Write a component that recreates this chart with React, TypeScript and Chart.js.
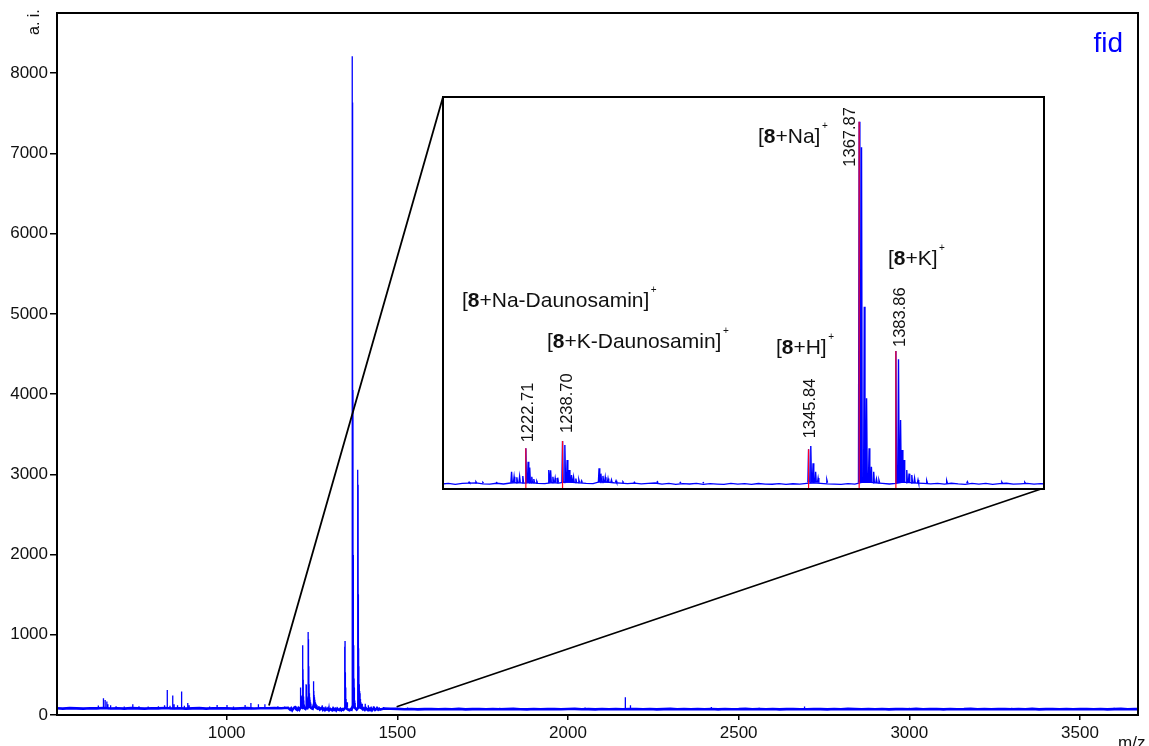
import React, { useEffect, useRef } from "react";
import { Chart, registerables } from "chart.js";

Chart.register(...registerables);

// ---------- data ----------
const X_TICKS = [1000, 1500, 2000, 2500, 3000, 3500];
const Y_TICKS = [0, 1000, 2000, 3000, 4000, 5000, 6000, 7000, 8000];

// coarse baseline (noise floor) sampled every 20 m/z starting at 500
const BASELINE_START_MZ = 500;
const BASELINE_STEP_MZ = 20;
const BASELINE_LOW = [84, 80, 86, 82, 79, 85, 83, 88, 81, 84, 80, 86, 83, 79, 85, 82, 87, 81, 84, 80, 83, 86, 79, 84, 82, 85, 80, 83, 86, 81, 84];
const BASELINE_MID = [85, 88, 84, 90, 92, 95, 98, 100, 96, 94, 97, 102, 98, 92, 88, 86, 82, 80, 78];
const BASELINE_HIGH = [
  76, 72, 74, 70, 73, 75, 71, 74, 72, 76,
  70, 73, 75, 72, 74, 71, 73, 76, 72, 70,
  74, 72, 75, 73, 71, 74, 76, 72, 73, 70,
  75, 72, 74, 71, 73, 75, 72, 74, 70, 73,
  76, 72, 74, 71, 73, 72, 75, 70, 74, 72,
  73, 76, 71, 74, 72, 75, 70, 73, 74, 72,
  71, 75, 73, 70, 74, 72, 76, 73, 71, 74,
  72, 75, 70, 73, 74, 71, 76, 72, 73, 75,
  70, 74, 72, 73, 76, 71, 74, 72, 75, 73,
  71, 74, 72, 76, 70, 73, 75, 72, 74, 71,
  73, 75, 72, 74, 70, 73, 76, 72, 74, 73,
];

// fine baseline noise in the zoomed window, every 3 m/z from 1186 to 1450
const FINE_START_MZ = 1186;
const FINE_STEP_MZ = 3;
const FINE_NOISE = [
  67, 83, 60, 80, 88, 92, 72, 63, 85, 68,
  90, 97, 89, 102, 84, 76, 98, 88, 114, 106,
  92, 83, 78, 120, 112, 96, 86, 78, 89, 70,
  83, 90, 66, 80, 61, 78, 68, 82, 60, 77,
  67, 59, 82, 65, 76, 58, 79, 66, 62, 77,
  60, 73, 65, 80, 96, 84, 72, 64, 59, 74,
  67, 104, 112, 95, 80, 68, 83, 109, 97, 88,
  82, 70, 84, 66, 85, 71, 61, 80, 65, 83,
  60, 76, 85, 64, 72, 82, 66, 78, 67,
];

// peaks [m/z, intensity]
const PEAKS_LOW_MASS: [number, number][] = [
  [624, 117], [639, 208], [644, 188], [649, 167], [652, 133], [660, 120], [676, 110], [700, 105],
  [725, 133], [743, 108], [770, 105], [800, 110], [818, 120], [826, 312], [834, 115], [842, 242],
  [846, 135], [856, 120], [868, 292], [876, 115], [886, 150], [890, 120], [920, 100], [950, 105],
  [972, 125], [1001, 125], [1020, 105], [1054, 125], [1071, 150], [1093, 133], [1112, 133],
  [1150, 110], [1170, 105],
];
const PEAKS_FRAGMENT_REGION: [number, number][] = [
  [1198, 110], [1201, 115], [1204, 105], [1210, 100],
  [1216.5, 344], [1217.6, 231], [1218.8, 220], [1220.0, 235], [1221.4, 245], [1222.71, 870],
  [1223.7, 569], [1224.4, 440], [1225.3, 230], [1226.2, 180], [1227.5, 130],
  [1232.7, 382], [1233.5, 375], [1234.5, 231], [1235.5, 200], [1236.6, 210], [1238.7, 1034],
  [1239.7, 944], [1240.7, 607], [1241.6, 382], [1242.6, 270], [1243.5, 220], [1244.5, 190],
  [1245.8, 160], [1247, 140],
  [1254.6, 420], [1255.4, 300], [1256.3, 250], [1257.3, 220], [1258.5, 190], [1260, 160],
  [1262, 140], [1265, 120], [1270, 110], [1280, 120], [1290, 105], [1300, 100],
];
const PEAKS_MOLECULAR_REGION: [number, number][] = [
  [1345.84, 850], [1346.8, 921], [1347.8, 532], [1348.9, 344], [1350, 200], [1353.8, 160],
  [1367.87, 8210], [1368.9, 7634], [1370.1, 4052], [1371.1, 1993], [1372.2, 870], [1373.2, 456],
  [1374.2, 344], [1375.4, 180], [1376.5, 150],
  [1383.86, 3056], [1385.0, 2870], [1385.9, 1506], [1386.6, 831], [1387.4, 607], [1388.6, 382],
  [1389.6, 300], [1390.8, 270], [1392, 200], [1393.5, 160],
  [1397.3, 140], [1406, 140], [1415, 120], [1430, 110], [1440, 105], [1460, 100],
];
const PEAKS_HIGH_MASS: [number, number][] = [
  [1530, 92], [1620, 88], [1800, 90], [1950, 88], [2050, 92], [2168, 221], [2183, 120],
  [2300, 88], [2420, 100], [2560, 90], [2693, 105], [2850, 88], [3000, 90], [3150, 88],
  [3300, 90], [3450, 88], [3600, 90],
];

// labelled peaks (inset)
const LABEL_TEXT = ["1222.71", "1238.70", "1345.84", "1367.87", "1383.86"];
const LABEL_MZ = [1222.71, 1238.7, 1345.84, 1367.87, 1383.86];
const LABEL_INTENSITY = [870, 1034, 847, 8210, 3056];

// ion annotations: [prefix, bold, suffix], anchor m/z, anchor intensity
const ION_TEXT: [string, string, string][] = [
  ["[", "8", "+Na-Daunosamin]"],
  ["[", "8", "+K-Daunosamin]"],
  ["[", "8", "+H]"],
  ["[", "8", "+Na]"],
  ["[", "8", "+K]"],
];
const ION_MZ = [1194.9, 1231.9, 1331.6, 1323.8, 1380.4];
const ION_INTENSITY = [4045, 3124, 2989, 7730, 4989];

// zoom callout anchors on the main spectrum
const CALLOUT_MZ = [1124, 1498];
const CALLOUT_INTENSITY = [118, 103];

// ---------- layout / style ----------
const W = 1149;
const H = 746;
const FONT = '"Liberation Sans", Arial, Helvetica, sans-serif';
const BLUE = "#0000ff";
const INSET = { left: 442, top: 96, width: 603, height: 394 };
const LABEL_OFFSETS: [number, number][] = [[7, -6], [9, -8], [6, -11], [-4, 45], [9, -4]];

// ---------- helpers ----------
const BASELINE_LEVELS = [...BASELINE_LOW, ...BASELINE_MID, ...BASELINE_HIGH];
const ALL_PEAKS = [...PEAKS_LOW_MASS, ...PEAKS_FRAGMENT_REGION, ...PEAKS_MOLECULAR_REGION, ...PEAKS_HIGH_MASS];
const FINE_END_MZ = FINE_START_MZ + (FINE_NOISE.length - 1) * FINE_STEP_MZ;

function baselineAt(mz: number) {
  const i = Math.max(0, Math.min(BASELINE_LEVELS.length - 1, Math.round((mz - BASELINE_START_MZ) / BASELINE_STEP_MZ)));
  return BASELINE_LEVELS[i];
}
function baselinePoints() {
  const pts: { x: number; y: number }[] = [];
  BASELINE_LEVELS.forEach((v, i) => {
    const mz = BASELINE_START_MZ + i * BASELINE_STEP_MZ;
    if (mz < FINE_START_MZ) pts.push({ x: mz, y: v });
  });
  FINE_NOISE.forEach((v, i) => pts.push({ x: FINE_START_MZ + i * FINE_STEP_MZ, y: v }));
  BASELINE_LEVELS.forEach((v, i) => {
    const mz = BASELINE_START_MZ + i * BASELINE_STEP_MZ;
    if (mz > FINE_END_MZ) pts.push({ x: mz, y: v });
  });
  return pts;
}
function peakPoints(halfWidth: number) {
  const pts: any[] = [];
  for (const [mz, h] of ALL_PEAKS) {
    const f = baselineAt(mz);
    pts.push({ x: mz - halfWidth, y: f }, { x: mz, y: h }, { x: mz + halfWidth, y: f }, { x: mz + halfWidth + 0.01, y: null });
  }
  return pts;
}
function markerPoints(bottom: number) {
  const pts: any[] = [];
  LABEL_MZ.forEach((mz, i) => {
    pts.push({ x: mz, y: bottom }, { x: mz, y: LABEL_INTENSITY[i] }, { x: mz + 0.01, y: null });
  });
  return pts;
}

const mainDecor = {
  id: "mainDecor",
  afterDatasetsDraw(chart: any) {
    const { ctx, chartArea: a, scales } = chart;
    const x = scales.x;
    const y = scales.y;
    ctx.save();
    ctx.strokeStyle = "#000";
    ctx.lineWidth = 2;
    ctx.strokeRect(a.left, a.top, a.right - a.left, a.bottom - a.top);
    ctx.lineWidth = 1.8;
    ctx.beginPath();
    ctx.moveTo(x.getPixelForValue(CALLOUT_MZ[0]), y.getPixelForValue(CALLOUT_INTENSITY[0]));
    ctx.lineTo(INSET.left + 1, INSET.top + 1);
    ctx.moveTo(x.getPixelForValue(CALLOUT_MZ[1]), y.getPixelForValue(CALLOUT_INTENSITY[1]));
    ctx.lineTo(INSET.left + INSET.width - 1, INSET.top + INSET.height - 2);
    ctx.stroke();

    ctx.fillStyle = "#111";
    ctx.font = `16px ${FONT}`;
    ctx.textAlign = "left";
    ctx.textBaseline = "alphabetic";
    ctx.save();
    ctx.translate(38.5, 35);
    ctx.rotate(-Math.PI / 2);
    ctx.fillText("a. i.", 0, 0);
    ctx.restore();

    ctx.font = `17px ${FONT}`;
    ctx.fillText("m/z", 1118, 748);

    ctx.fillStyle = BLUE;
    ctx.font = `28px ${FONT}`;
    ctx.textAlign = "right";
    ctx.fillText("fid", 1123, 51.5);
    ctx.restore();
  },
};

const insetDecor = {
  id: "insetDecor",
  beforeDraw(chart: any) {
    const { ctx, width, height } = chart;
    ctx.save();
    ctx.fillStyle = "#fff";
    ctx.fillRect(0, 0, width, height);
    ctx.restore();
  },
  afterDraw(chart: any) {
    const { ctx, scales, width, height } = chart;
    const x = scales.x;
    const y = scales.y;
    ctx.save();
    ctx.strokeStyle = "#000";
    ctx.lineWidth = 2;
    ctx.strokeRect(1, 1, width - 2, height - 2);

    ctx.fillStyle = "#111";
    ctx.font = `16.5px ${FONT}`;
    ctx.textAlign = "left";
    ctx.textBaseline = "alphabetic";
    LABEL_TEXT.forEach((t, i) => {
      const px = x.getPixelForValue(LABEL_MZ[i]);
      const py = y.getPixelForValue(LABEL_INTENSITY[i]);
      ctx.save();
      ctx.translate(px + LABEL_OFFSETS[i][0], py + LABEL_OFFSETS[i][1]);
      ctx.rotate(-Math.PI / 2);
      ctx.fillText(t, 0, 0);
      ctx.restore();
    });

    ION_TEXT.forEach(([pre, bold, post], i) => {
      let px = x.getPixelForValue(ION_MZ[i]);
      const py = y.getPixelForValue(ION_INTENSITY[i]);
      ctx.font = `21px ${FONT}`;
      ctx.fillText(pre, px, py);
      px += ctx.measureText(pre).width;
      ctx.font = `bold 21px ${FONT}`;
      ctx.fillText(bold, px, py);
      px += ctx.measureText(bold).width;
      ctx.font = `21px ${FONT}`;
      ctx.fillText(post, px, py);
      px += ctx.measureText(post).width;
      ctx.font = `10px ${FONT}`;
      ctx.fillText("+", px + 1.5, py - 14);
    });
    ctx.restore();
  },
};

export default function App() {
  const mainRef = useRef<HTMLCanvasElement | null>(null);
  const insetRef = useRef<HTMLCanvasElement | null>(null);

  useEffect(() => {
    const tickFont = { family: FONT, size: 17 };
    const main = new Chart(mainRef.current as HTMLCanvasElement, {
      type: "line",
      data: {
        datasets: [
          { data: peakPoints(0.2), borderColor: BLUE, borderWidth: 1.3, pointRadius: 0, spanGaps: false, tension: 0 },
          { data: baselinePoints(), borderColor: BLUE, borderWidth: 2.6, pointRadius: 0, tension: 0 },
        ],
      },
      options: {
        responsive: false,
        animation: false,
        events: [],
        layout: { padding: { left: 0, top: 13, right: 11, bottom: 0 } },
        plugins: { legend: { display: false }, tooltip: { enabled: false } },
        scales: {
          x: {
            type: "linear",
            min: 503,
            max: 3670,
            afterBuildTicks: (s: any) => {
              s.ticks = X_TICKS.map((v) => ({ value: v }));
            },
            afterFit: (s: any) => {
              s.height = 31;
            },
            grid: { display: true, drawOnChartArea: false, drawTicks: true, tickLength: 5, color: "#000", lineWidth: 1.5 },
            border: { display: false },
            ticks: { font: tickFont, color: "#111", padding: 3, maxRotation: 0, autoSkip: false, callback: (v: any) => String(v) },
          },
          y: {
            type: "linear",
            min: 0,
            max: 8750,
            afterBuildTicks: (s: any) => {
              s.ticks = Y_TICKS.map((v) => ({ value: v }));
            },
            afterFit: (s: any) => {
              s.width = 57;
            },
            grid: { display: true, drawOnChartArea: false, drawTicks: true, tickLength: 7, color: "#000", lineWidth: 1.5 },
            border: { display: false },
            ticks: { font: tickFont, color: "#111", padding: 2, autoSkip: false, callback: (v: any) => String(v) },
          },
        },
      },
      plugins: [mainDecor],
    } as any);

    const yMin = -67;
    const inset = new Chart(insetRef.current as HTMLCanvasElement, {
      type: "line",
      data: {
        datasets: [
          { data: markerPoints(yMin), borderColor: "#ff0022", borderWidth: 1.2, pointRadius: 0, spanGaps: false },
          { data: peakPoints(0.3), borderColor: BLUE, borderWidth: 1.4, pointRadius: 0, spanGaps: false, tension: 0 },
          { data: baselinePoints(), borderColor: BLUE, borderWidth: 1.3, pointRadius: 0, tension: 0 },
        ],
      },
      options: {
        responsive: false,
        animation: false,
        events: [],
        layout: { padding: 0 },
        plugins: { legend: { display: false }, tooltip: { enabled: false } },
        scales: {
          x: { type: "linear", display: false, min: 1186.2, max: 1448.8 },
          y: { type: "linear", display: false, min: yMin, max: 8787 },
        },
      },
      plugins: [insetDecor],
    } as any);

    return () => {
      main.destroy();
      inset.destroy();
    };
  }, []);

  return (
    <div style={{ position: "absolute", left: 0, top: 0, width: W, height: H, background: "#fff" }}>
      <canvas ref={mainRef} width={W} height={H} style={{ position: "absolute", left: 0, top: 0, display: "block" }} />
      <canvas
        ref={insetRef}
        width={INSET.width}
        height={INSET.height}
        style={{ position: "absolute", left: INSET.left, top: INSET.top, display: "block" }}
      />
    </div>
  );
}
